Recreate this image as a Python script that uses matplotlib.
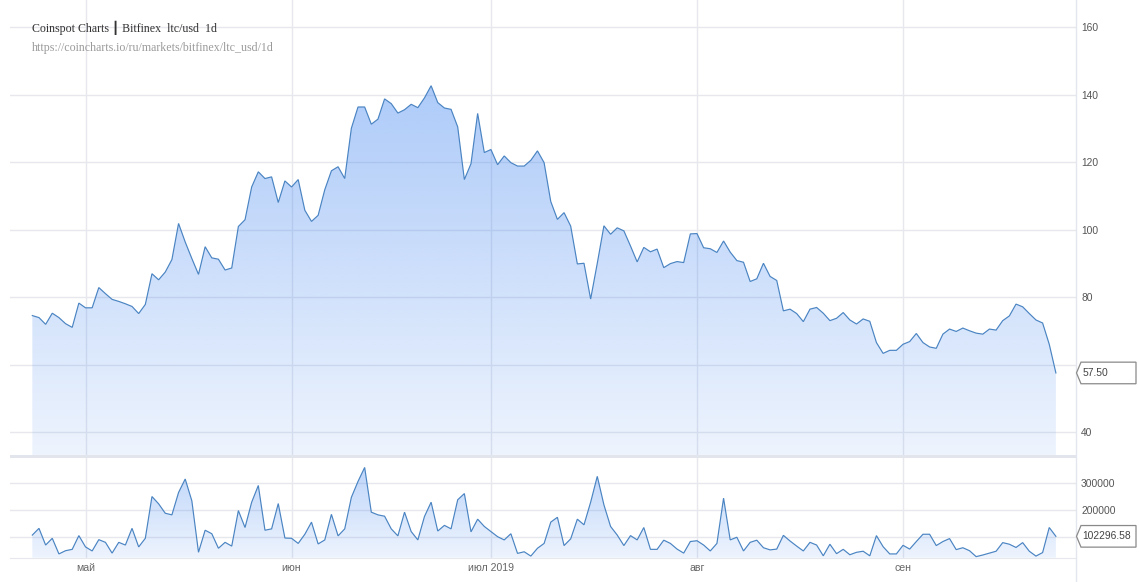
import numpy as np
import pandas as pd
import matplotlib
matplotlib.use('Agg')
import matplotlib.pyplot as plt
import matplotlib.dates as mdates
from matplotlib.path import Path
from matplotlib.patches import Polygon, Rectangle
from matplotlib.lines import Line2D
from matplotlib.transforms import IdentityTransform

# ---------------- data ----------------
start_date = '2019-04-23'

price_apr = [74.5, 73.9, 71.9, 75.2, 73.9, 72.1, 71.0, 78.2]
price_may = [76.8, 76.8, 82.8, 81.0, 79.3, 78.7, 78.0, 77.2, 75.1, 77.8,
             86.9, 85.1, 87.4, 91.1, 101.8, 96.3, 91.4, 86.7, 94.9, 91.6,
             91.2, 88.0, 88.6, 100.9, 102.9, 112.6, 117.1, 115.1, 115.6, 108.0,
             114.4]
price_jun = [112.6, 114.8, 105.7, 102.4, 104.2, 111.8, 117.4, 118.6, 115.1, 130.0,
             136.3, 136.3, 131.2, 132.7, 138.7, 137.3, 134.5, 135.5, 137.1, 136.1,
             139.0, 142.6, 137.6, 136.0, 135.6, 130.4, 114.8, 119.5, 134.4, 122.8]
price_jul = [123.7, 119.2, 121.8, 119.8, 118.8, 118.8, 120.5, 123.3, 119.8, 108.3,
             103.0, 105.0, 101.0, 89.8, 90.0, 79.4, 90.0, 101.1, 98.6, 100.5,
             99.6, 95.1, 90.4, 94.7, 93.4, 94.2, 88.7, 89.9, 90.5, 90.2,
             98.7]
price_aug = [98.8, 94.6, 94.3, 93.2, 96.6, 93.3, 90.8, 90.3, 84.6, 85.4,
             90.0, 86.1, 84.9, 75.9, 76.4, 75.1, 72.7, 76.4, 76.9, 75.2,
             73.0, 73.7, 75.4, 73.2, 72.0, 73.5, 72.8, 66.5, 63.3, 64.2,
             64.2]
price_sep = [66.0, 66.8, 69.2, 66.5, 65.2, 64.8, 69.0, 70.5, 69.8, 70.8,
             70.0, 69.3, 69.0, 70.5, 70.2, 73.0, 74.4, 77.9, 77.1, 75.1,
             73.2, 72.3, 66.0, 57.5]

vol_apr = [107, 132, 70, 95, 37, 49, 54, 105]
vol_may = [63, 48, 90, 80, 40, 80, 70, 132, 63, 95,
           250, 223, 188, 182, 265, 315, 234, 43, 125, 112,
           58, 80, 66, 198, 135, 229, 291, 125, 130, 224,
           96]
vol_jun = [95, 76, 110, 155, 74, 89, 184, 104, 130, 247,
           306, 358, 192, 182, 177, 130, 104, 192, 120, 89,
           176, 229, 122, 143, 130, 238, 261, 119, 166, 139]
vol_jul = [120, 101, 89, 112, 39, 45, 29, 58, 76, 155,
           173, 68, 93, 166, 145, 229, 325, 219, 139, 107,
           68, 105, 89, 135, 54, 54, 88, 76, 55, 40,
           83]
vol_aug = [86, 70, 48, 76, 244, 89, 99, 48, 80, 88,
           60, 52, 55, 106, 85, 66, 48, 80, 70, 30,
           73, 38, 54, 34, 43, 47, 30, 105, 64, 37,
           37]
vol_sep = [69, 55, 83, 110, 110, 68, 83, 94, 53, 60,
           49, 27, 33, 40, 47, 79, 73, 61, 79, 47,
           29, 42, 135, 102.29658]

price = np.array(price_apr + price_may + price_jun + price_jul + price_aug + price_sep)
volume = np.array(vol_apr + vol_may + vol_jun + vol_jul + vol_aug + vol_sep) * 1000.0

month_ticks = ['2019-05-01', '2019-06-01', '2019-07-01', '2019-08-01', '2019-09-01']
month_labels = ['май', 'июн', 'июл 2019', 'авг', 'сен']
price_ticks = [40, 60, 80, 100, 120, 140, 160]
price_tick_labels = ['40', '', '80', '100', '120', '140', '160']
vol_ticks = [100000, 200000, 300000]
vol_tick_labels = ['', '200000', '300000']

title_main = 'Coinspot Charts \u2503 Bitfinex  ltc/usd  1d'
title_url = 'https://coincharts.io/ru/markets/bitfinex/ltc_usd/1d'

# ---------------- figure ----------------
W, H = 1139, 582
fig = plt.figure(figsize=(W / 100, H / 100), dpi=100)
fig.patch.set_facecolor('white')

def frac(l, t, r, b):
    return [l / W, 1 - b / H, (r - l) / W, (b - t) / H]

axp = fig.add_axes(frac(10, 0, 1075.5, 455))
axv = fig.add_axes(frac(10, 458, 1075.5, 557.7))

dates = pd.date_range(start_date, periods=len(price), freq='D')
x = mdates.date2num(dates.to_pydatetime())
mt = mdates.date2num(pd.to_datetime(month_ticks).to_pydatetime())

xmin, xmax = x[0] - 3.36, x[-1] + 2.95
grid_c = '#e6e8ee'
line_c = '#4a84c2'
sans = ['Liberation Sans', 'DejaVu Sans']


def gradient_area(ax, xs, ys, ybot, a_top, a_bot, zorder=2):
    n = 256
    t = np.linspace(0, 1, n)[:, None]
    rgba = np.zeros((n, 1, 4))
    rgba[..., 0] = 60 / 255
    rgba[..., 1] = 130 / 255
    rgba[..., 2] = 240 / 255
    rgba[..., 3] = a_top * (1 - t) + a_bot * t
    ytop = ys.max()
    im = ax.imshow(rgba, extent=[xs[0], xs[-1], ybot, ytop], origin='upper',
                   aspect='auto', interpolation='bilinear', zorder=zorder)
    verts = [(xs[0], ybot)] + list(zip(xs, ys)) + [(xs[-1], ybot), (xs[0], ybot)]
    codes = [Path.MOVETO] + [Path.LINETO] * (len(verts) - 2) + [Path.CLOSEPOLY]
    im.set_clip_path(Path(verts, codes), transform=ax.transData)


for ax in (axp, axv):
    ax.set_facecolor('none')
    for s in ax.spines.values():
        s.set_visible(False)
    ax.set_xlim(xmin, xmax)
    ax.set_xticks(mt)
    ax.grid(True, color=grid_c, lw=1.0, zorder=0)
    ax.set_axisbelow(True)
    ax.yaxis.tick_right()
    ax.tick_params(axis='both', length=0, pad=4, labelsize=7.4, labelcolor='#555555')
    for lab in ax.get_yticklabels() + ax.get_xticklabels():
        lab.set_family(sans)

# price panel
p_lo, p_hi = 33.19, 168.0
axp.set_ylim(p_lo, p_hi)
axp.set_yticks(price_ticks)
axp.set_yticklabels(price_tick_labels, family=sans)
axp.set_xticklabels([])
gradient_area(axp, x, price, p_lo, 0.42, 0.09)
axp.plot(x, price, color=line_c, lw=0.85, zorder=3, solid_joinstyle='miter')

# volume panel
v_lo, v_hi = 23000, 393000
axv.set_ylim(v_lo, v_hi)
axv.set_yticks(vol_ticks)
axv.set_yticklabels(vol_tick_labels, family=sans)
axv.set_xticklabels(month_labels, family=sans, color='#666666', fontsize=7.6)
axv.spines['bottom'].set_visible(True)
axv.spines['bottom'].set_color(grid_c)
axv.tick_params(axis='x', pad=4)
gradient_area(axv, x, volume, v_lo, 0.33, 0.09)
axv.plot(x, volume, color=line_c, lw=0.85, zorder=3, solid_joinstyle='miter')

# separator band and right border
fig.add_artist(Rectangle((10 / W, 1 - 458 / H), (1075.5 - 10) / W, 3 / H,
                         transform=fig.transFigure, facecolor='#e2e5eb',
                         edgecolor='none', zorder=5))
fig.add_artist(Line2D([1075.5 / W, 1075.5 / W], [0, 1], transform=fig.transFigure,
                      color='#e3e6ec', lw=1.0, zorder=5))

# title
fig.text(32 / W, 1 - 32 / H, title_main, fontsize=8.6, color='#333333',
         family=['Liberation Serif', 'DejaVu Sans'], va='baseline', ha='left')
fig.text(32 / W, 1 - 51.5 / H, title_url, fontsize=8.6, color='#9a9a9a',
         family=['Liberation Serif', 'DejaVu Sans'], va='baseline', ha='left')

# last value markers
fig.canvas.draw()
ident = IdentityTransform()


def value_box(ax, val, text):
    xr_disp = ax.transAxes.transform((1.0, 0))[0]
    yd = ax.transData.transform((x[-1], val))[1]
    tip = xr_disp + 1
    left = tip + 4.5
    right = tip + 59.5
    hh = 10.8
    poly = Polygon([(tip, yd), (left, yd + hh), (right, yd + hh), (right, yd - hh),
                    (left, yd - hh)], closed=True, transform=ident,
                   facecolor='white', edgecolor='#8a8a8a', lw=0.9, zorder=10)
    fig.add_artist(poly)
    fig.text((left + 1.5) / W, yd / H, text, transform=fig.transFigure,
             fontsize=7.4, color='#444444', family=sans, va='center', ha='left',
             zorder=11)


value_box(axp, price[-1], f'{price[-1]:.2f}')
value_box(axv, volume[-1], f'{volume[-1]:.2f}')

fig.savefig('out.png', dpi=100, facecolor='white')
